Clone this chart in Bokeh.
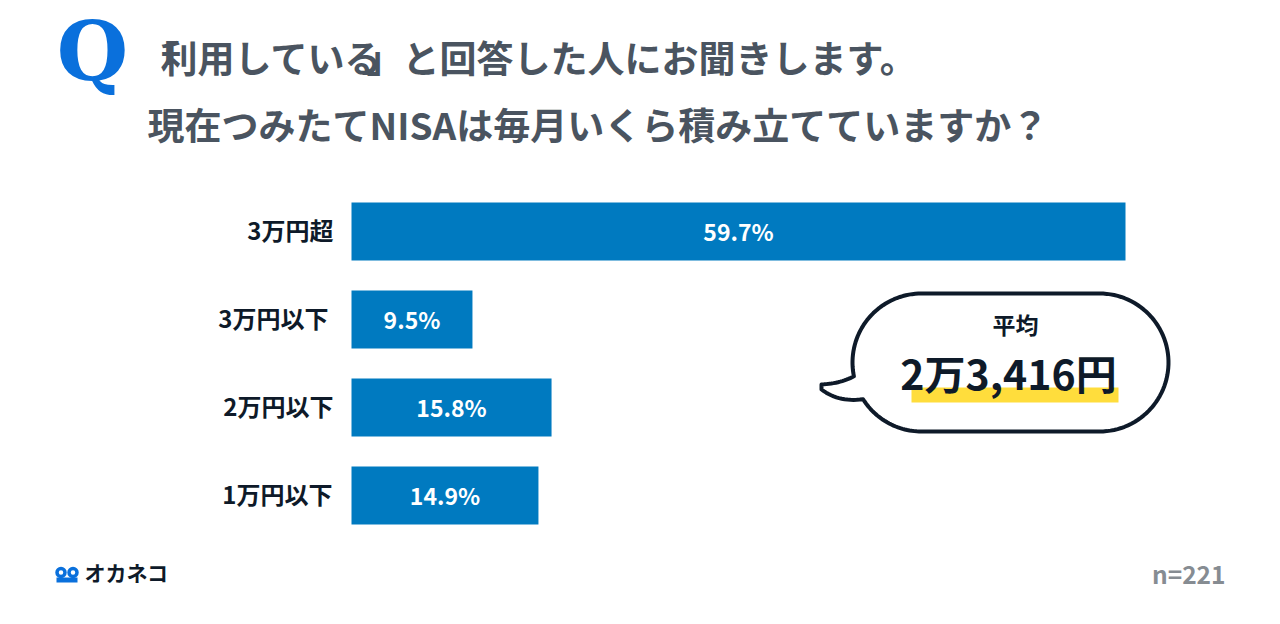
import numpy as np
from bokeh.plotting import figure
from bokeh.models import Range1d, ColumnDataSource
from bokeh.core.properties import value
from bokeh.embed import file_html
from bokeh.resources import INLINE

categories = ["3万円超", "3万円以下", "2万円以下", "1万円以下"]
percent_labels = ["59.7%", "9.5%", "15.8%", "14.9%"]
# Bar lengths (in the source the bars are slightly
# shorter than the printed percentages imply for the three small rows).
bar_lengths = [59.7, 9.33, 15.43, 14.42]
category_shift = [0, -5, 0, -1]
title_parts = ["「", "利用している", "」", "と回答した人にお聞きします。"]
title_line2 = "現在つみたてNISAは毎月いくら積み立てていますか？"
avg_label = "平均"
avg_value = "2万3,416円"
sample_label = "n=221"
brand = "オカネコ"

W, H = 1280, 624
JP = value("Noto Sans CJK JP")
BAR = "#007ac0"; INK = "#0e1a29"; TITLE = "#4a5460"; BLUE = "#0a70dc"; YEL = "#ffdd3c"; GRAY = "#868c92"

# data scale: 0% at picture x=351, 59.7% at x=1125; rows 88px apart, first at y=231
ppu = (1125 - 351) / 59.7
x0 = (0 - 351) / ppu
x1 = (W - 351) / ppu
ytop = (0 - 231) / 88
ybot = (H - 231) / 88

p = figure(width=W, height=H, output_backend="svg", toolbar_location=None,
           x_range=Range1d(x0, x1), y_range=Range1d(ybot, ytop),
           min_border=0, outline_line_color=None, background_fill_color="white",
           border_fill_color="white")
p.axis.visible = False
p.grid.visible = False
# second coordinate system in picture pixels for the decoration
p.extra_x_ranges["px"] = Range1d(0, W)
p.extra_y_ranges["px"] = Range1d(H, 0)
PX = dict(x_range_name="px", y_range_name="px")

rows = list(range(len(categories)))
src = ColumnDataSource(dict(y=rows, v=bar_lengths, mid=[v / 2 for v in bar_lengths],
                            lab=percent_labels, cat=categories,
                            catx=[-18 / ppu + s / ppu for s in category_shift]))
p.hbar(y="y", left=0, right="v", height=58 / 88, color=BAR, line_color=None, source=src)
p.text(x="mid", y="y", text="lab", source=src, text_color="white", text_font=JP,
       text_font_style="bold", text_font_size="23px", text_align="center", text_baseline="middle",
       y_offset=-1)
p.text(x="catx", y="y", text="cat", source=src, text_color=INK, text_font=JP,
       text_font_style="bold", text_font_size="24px", text_align="right", text_baseline="middle",
       y_offset=-2)

def txt(x, y, s, size, color, align="left", font=JP, style="bold"):
    p.text(x=[x], y=[y], text=[s], text_color=color, text_font=font, text_font_style=style,
           text_font_size=f"{size}px", text_align=align, text_baseline="middle", **PX)

# Q mark
txt(92, 50, "Q", 82, BLUE, "center", value("DejaVu Serif"))
# title (brackets set tight, as in the reference)
txt(142, 56, title_parts[0], 37, TITLE)
txt(160, 56, title_parts[1], 37, TITLE)
txt(366, 56, title_parts[2], 37, TITLE)
txt(402, 56, title_parts[3], 37, TITLE)
txt(147, 123, title_line2, 37, TITLE)

# speech bubble
r = 69; L, R, T, B = 852, 1168, 293, 431
cx, cy = L + r, (T + B) / 2
t = np.linspace(-np.pi / 2, np.pi / 2, 60)
rx = R - r + r * np.cos(t); ry = cy + r * np.sin(t)
a1 = np.linspace(np.pi / 2, 2.58, 30)
lx1 = cx + r * np.cos(a1); ly1 = cy + r * np.sin(a1)
a2 = np.linspace(2.94, 3 * np.pi / 2, 40)
lx2 = cx + r * np.cos(a2); ly2 = cy + r * np.sin(a2)
def quad_bez(a, c, b):
    s = np.linspace(0, 1, 16)
    return ((1 - s) ** 2 * a[0] + 2 * s * (1 - s) * c[0] + s ** 2 * b[0],
            (1 - s) ** 2 * a[1] + 2 * s * (1 - s) * c[1] + s ** 2 * b[1])
low = quad_bez((lx1[-1], ly1[-1]), (838, 402), (821, 389))
up = quad_bez((821, 384), (840, 383), (lx2[0], ly2[0]))
bx = np.concatenate([rx, lx1, low[0], up[0], lx2])
by = np.concatenate([ry, ly1, low[1], up[1], ly2])
p.patch(bx.tolist(), by.tolist(), fill_color="white", line_color=INK, line_width=4, line_join="round", **PX)
p.quad(left=[911], right=[1118], top=[387], bottom=[402], color=YEL, line_color=None, **PX)
txt(1015, 323, avg_label, 23, INK, "center")
txt(1008, 371, avg_value, 41, INK, "center")

# footer
txt(1225, 573, sample_label, 24.5, GRAY, "right")
p.circle(x=[60.5, 72.5], y=[572, 572], radius=4, fill_color="white", line_color=BLUE, line_width=3.5, **PX)
p.quad(left=[56], right=[77], top=[577], bottom=[582], color=BLUE, line_color=None, **PX)
txt(84, 571, brand, 21, INK, "left", JP, "bold")

open("out.html", "w").write(file_html(p, INLINE))
